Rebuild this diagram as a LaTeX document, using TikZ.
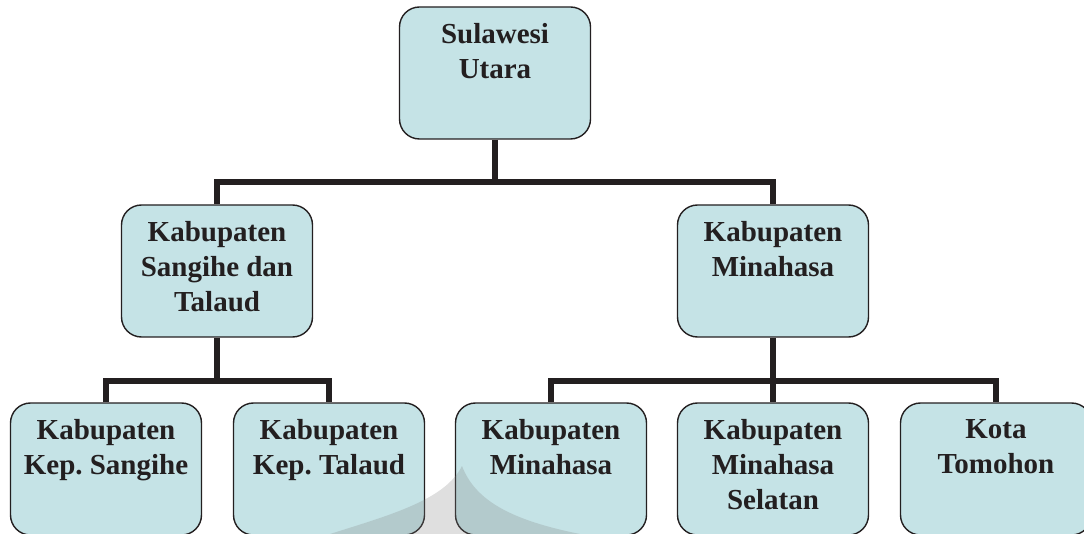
\documentclass[tikz,border=0pt]{standalone}
\usepackage{fontspec}
\setmainfont{Liberation Serif}
\frenchspacing
\usetikzlibrary{positioning}
\definecolor{boxfill}{HTML}{C5E3E6}
\definecolor{ink}{HTML}{231F20}
\tikzset{
  region/.style={draw=ink, line width=1.4pt, fill=boxfill, rounded corners=20pt,
    minimum width=191pt, minimum height=132pt, inner sep=0pt,
    label={[regiontext]north:#1}},
  regiontext/.style={anchor=north, yshift=-17pt, inner sep=0pt, align=center, text=ink,
    font=\bfseries\fontsize{29}{35}\selectfont},
  branch/.style={draw=ink, line width=6pt, line join=miter}
}
\begin{document}
\begin{tikzpicture}[x=1pt, y=-1pt]
\useasboundingbox (0,0) rectangle (1084,534);
% top level
\node[region={Sulawesi\\Utara}] (sulut) at (495,73) {};
% second level
\node[region={Kabupaten\\Sangihe dan\\Talaud}] (sangtal) at (217,271) {};
\node[region={Kabupaten\\Minahasa}] (minahasa) at (773,271) {};
% third level
\node[region={Kabupaten\\Kep. Sangihe}] (sangihe) at (106,469) {};
\node[region={Kabupaten\\Kep. Talaud}] (talaud) at (329,469) {};
\node[region={Kabupaten\\Minahasa}] (minut) at (551,469) {};
\node[region={Kabupaten\\Minahasa\\Selatan}] (minsel) at (773,469) {};
\node[region={Kota\\Tomohon}] (tomohon) at (996,469) {};
% connectors
\coordinate (topbar) at (495,182);
\coordinate (leftbar) at (217,381);
\coordinate (rightbar) at (773,381);
\draw[branch] (sulut.south) -- (topbar);
\draw[branch] (sangtal.north) |- (topbar) -| (minahasa.north);
\draw[branch] (sangtal.south) -- (leftbar);
\draw[branch] (sangihe.north) |- (leftbar) -| (talaud.north);
\draw[branch] (minahasa.south) -- (minsel.north);
\draw[branch] (minut.north) |- (rightbar) -| (tomohon.north);
% watermark
\fill[gray, opacity=0.25] (330,534) .. controls (390,515) and (445,500) .. (462,466)
  .. controls (475,500) and (510,520) .. (580,534) -- cycle;
\end{tikzpicture}
\end{document}
